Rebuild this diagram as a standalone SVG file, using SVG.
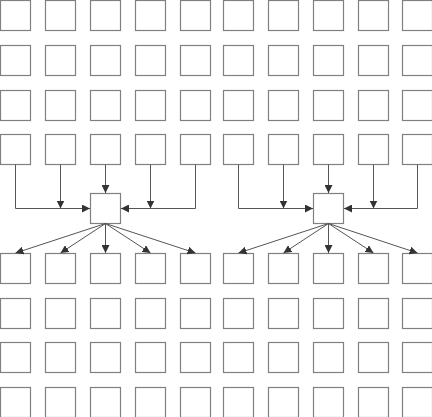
<svg xmlns="http://www.w3.org/2000/svg" width="432" height="417" viewBox="0 0 432 417">
<defs>
<style>
.b{fill:#fff;stroke:#808080;stroke-width:1.2}
.c{fill:none;stroke:#555;stroke-width:1}
</style>
<marker id="a" viewBox="0 0 10 10" refX="10" refY="5" markerWidth="8" markerHeight="8" markerUnits="userSpaceOnUse" orient="auto"><path d="M0,0L10,5L0,10z" fill="#333"/></marker>
</defs>
<rect width="432" height="417" fill="#fff"/>
<g id="nodes">
<g id="r1">
<rect class="b" x="0.5" y="0.5" width="30" height="30"/><rect class="b" x="45.5" y="0.5" width="30" height="30"/><rect class="b" x="90.5" y="0.5" width="30" height="30"/><rect class="b" x="135.5" y="0.5" width="30" height="30"/><rect class="b" x="180.5" y="0.5" width="30" height="30"/>
<rect class="b" x="223.5" y="0.5" width="30" height="30"/><rect class="b" x="268.5" y="0.5" width="30" height="30"/><rect class="b" x="313.5" y="0.5" width="30" height="30"/><rect class="b" x="358.5" y="0.5" width="30" height="30"/><rect class="b" x="402.5" y="0.5" width="30" height="30"/>
</g>
<g id="r2">
<rect class="b" x="0.5" y="45.5" width="30" height="30"/><rect class="b" x="45.5" y="45.5" width="30" height="30"/><rect class="b" x="90.5" y="45.5" width="30" height="30"/><rect class="b" x="135.5" y="45.5" width="30" height="30"/><rect class="b" x="180.5" y="45.5" width="30" height="30"/>
<rect class="b" x="223.5" y="45.5" width="30" height="30"/><rect class="b" x="268.5" y="45.5" width="30" height="30"/><rect class="b" x="313.5" y="45.5" width="30" height="30"/><rect class="b" x="358.5" y="45.5" width="30" height="30"/><rect class="b" x="402.5" y="45.5" width="30" height="30"/>
</g>
<g id="r3">
<rect class="b" x="0.5" y="90.5" width="30" height="30"/><rect class="b" x="45.5" y="90.5" width="30" height="30"/><rect class="b" x="90.5" y="90.5" width="30" height="30"/><rect class="b" x="135.5" y="90.5" width="30" height="30"/><rect class="b" x="180.5" y="90.5" width="30" height="30"/>
<rect class="b" x="223.5" y="90.5" width="30" height="30"/><rect class="b" x="268.5" y="90.5" width="30" height="30"/><rect class="b" x="313.5" y="90.5" width="30" height="30"/><rect class="b" x="358.5" y="90.5" width="30" height="30"/><rect class="b" x="402.5" y="90.5" width="30" height="30"/>
</g>
<g id="r4">
<rect class="b" x="0.5" y="134.5" width="30" height="30"/><rect class="b" x="45.5" y="134.5" width="30" height="30"/><rect class="b" x="90.5" y="134.5" width="30" height="30"/><rect class="b" x="135.5" y="134.5" width="30" height="30"/><rect class="b" x="180.5" y="134.5" width="30" height="30"/>
<rect class="b" x="223.5" y="134.5" width="30" height="30"/><rect class="b" x="268.5" y="134.5" width="30" height="30"/><rect class="b" x="313.5" y="134.5" width="30" height="30"/><rect class="b" x="358.5" y="134.5" width="30" height="30"/><rect class="b" x="402.5" y="134.5" width="30" height="30"/>
</g>
<g id="hub1"><rect class="b" x="90.5" y="193.5" width="30" height="30"/></g>
<g id="hub2"><rect class="b" x="313.5" y="193.5" width="30" height="30"/></g>
<g id="r5">
<rect class="b" x="0.5" y="253.5" width="30" height="30"/><rect class="b" x="45.5" y="253.5" width="30" height="30"/><rect class="b" x="90.5" y="253.5" width="30" height="30"/><rect class="b" x="135.5" y="253.5" width="30" height="30"/><rect class="b" x="180.5" y="253.5" width="30" height="30"/>
<rect class="b" x="223.5" y="253.5" width="30" height="30"/><rect class="b" x="268.5" y="253.5" width="30" height="30"/><rect class="b" x="313.5" y="253.5" width="30" height="30"/><rect class="b" x="358.5" y="253.5" width="30" height="30"/><rect class="b" x="402.5" y="253.5" width="30" height="30"/>
</g>
<g id="r6">
<rect class="b" x="0.5" y="298.5" width="30" height="30"/><rect class="b" x="45.5" y="298.5" width="30" height="30"/><rect class="b" x="90.5" y="298.5" width="30" height="30"/><rect class="b" x="135.5" y="298.5" width="30" height="30"/><rect class="b" x="180.5" y="298.5" width="30" height="30"/>
<rect class="b" x="223.5" y="298.5" width="30" height="30"/><rect class="b" x="268.5" y="298.5" width="30" height="30"/><rect class="b" x="313.5" y="298.5" width="30" height="30"/><rect class="b" x="358.5" y="298.5" width="30" height="30"/><rect class="b" x="402.5" y="298.5" width="30" height="30"/>
</g>
<g id="r7">
<rect class="b" x="0.5" y="342.5" width="30" height="30"/><rect class="b" x="45.5" y="342.5" width="30" height="30"/><rect class="b" x="90.5" y="342.5" width="30" height="30"/><rect class="b" x="135.5" y="342.5" width="30" height="30"/><rect class="b" x="180.5" y="342.5" width="30" height="30"/>
<rect class="b" x="223.5" y="342.5" width="30" height="30"/><rect class="b" x="268.5" y="342.5" width="30" height="30"/><rect class="b" x="313.5" y="342.5" width="30" height="30"/><rect class="b" x="358.5" y="342.5" width="30" height="30"/><rect class="b" x="402.5" y="342.5" width="30" height="30"/>
</g>
<g id="r8">
<rect class="b" x="0.5" y="387.5" width="30" height="30"/><rect class="b" x="45.5" y="387.5" width="30" height="30"/><rect class="b" x="90.5" y="387.5" width="30" height="30"/><rect class="b" x="135.5" y="387.5" width="30" height="30"/><rect class="b" x="180.5" y="387.5" width="30" height="30"/>
<rect class="b" x="223.5" y="387.5" width="30" height="30"/><rect class="b" x="268.5" y="387.5" width="30" height="30"/><rect class="b" x="313.5" y="387.5" width="30" height="30"/><rect class="b" x="358.5" y="387.5" width="30" height="30"/><rect class="b" x="402.5" y="387.5" width="30" height="30"/>
</g>
</g>
<g id="connectors" marker-end="url(#a)">
<path class="c" d="M15.5,164.5V208.5H90"/>
<path class="c" d="M60.5,164.5V208.5"/>
<path class="c" d="M105.5,164.5V193"/>
<path class="c" d="M150.5,164.5V208.5"/>
<path class="c" d="M195.5,164.5V208.5H121"/>
<path class="c" d="M105.5,223.5L15.5,253"/>
<path class="c" d="M105.5,223.5L60.5,253"/>
<path class="c" d="M105.5,223.5V253"/>
<path class="c" d="M105.5,223.5L150.5,253"/>
<path class="c" d="M105.5,223.5L195.5,253"/>
<path class="c" d="M238.5,164.5V208.5H313"/>
<path class="c" d="M283.5,164.5V208.5"/>
<path class="c" d="M328.5,164.5V193"/>
<path class="c" d="M373.5,164.5V208.5"/>
<path class="c" d="M417.5,164.5V208.5H344"/>
<path class="c" d="M328.5,223.5L238.5,253"/>
<path class="c" d="M328.5,223.5L283.5,253"/>
<path class="c" d="M328.5,223.5V253"/>
<path class="c" d="M328.5,223.5L373.5,253"/>
<path class="c" d="M328.5,223.5L417.5,253"/>
</g>
</svg>
